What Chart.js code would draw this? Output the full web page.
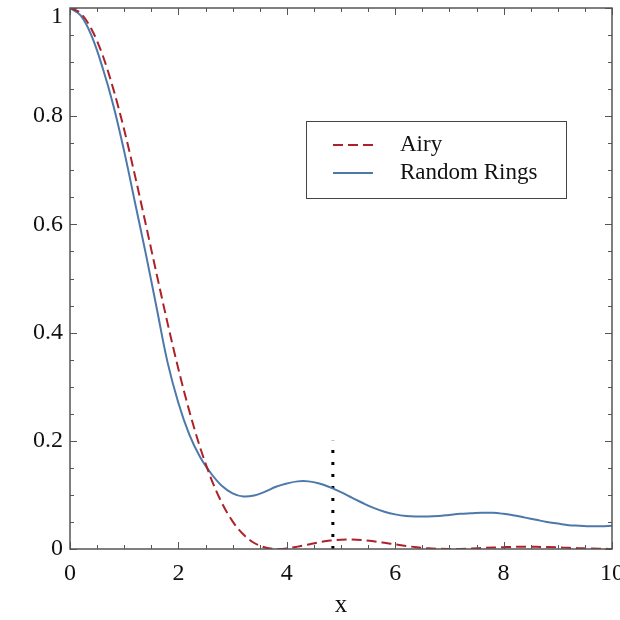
<!DOCTYPE html>
<html>
<head>
<meta charset="utf-8">
<script src="https://cdn.jsdelivr.net/npm/chart.js@4.4.1/dist/chart.umd.min.js"></script>
<style>
  html, body { margin: 0; padding: 0; background: #fff; }
  #wrap { width: 620px; height: 620px; }
</style>
</head>
<body>
<div id="wrap"><canvas id="chart" width="620" height="620"></canvas></div>
<script>
// x positions (step 0.2)
var xs = [0, 0.2, 0.4, 0.6, 0.8, 1.0, 1.2, 1.4, 1.6, 1.8, 2.0, 2.2, 2.4, 2.6, 2.8, 3.0, 3.2, 3.4, 3.6, 3.8,
  4.0, 4.2, 4.4, 4.6, 4.8, 5.0, 5.2, 5.4, 5.6, 5.8, 6.0, 6.2, 6.4, 6.6, 6.8, 7.0, 7.2, 7.4, 7.6, 7.8,
  8.0, 8.2, 8.4, 8.6, 8.8, 9.0, 9.2, 9.4, 9.6, 9.8, 10.0];

var airy = [1, 0.990, 0.9604, 0.9133, 0.8501, 0.7748, 0.6897, 0.5993, 0.5075, 0.4175, 0.3326, 0.2555, 0.1879,
  0.1312, 0.0856, 0.0511, 0.0267, 0.0111, 0.0028, 0.00005, 0.0011, 0.0044, 0.0085, 0.0125, 0.0155, 0.0172,
  0.0174, 0.0164, 0.0143, 0.0115, 0.0085, 0.0056, 0.0032, 0.0014, 0.0004, 0.0000, 0.0002, 0.0009, 0.0018,
  0.0027, 0.0034, 0.0040, 0.0042, 0.0040, 0.0036, 0.0030, 0.0022, 0.0015, 0.0008, 0.0004, 0.0001];

var rings = [1, 0.986, 0.948, 0.89, 0.82, 0.735, 0.64, 0.545, 0.445, 0.345, 0.27, 0.212, 0.17, 0.14, 0.117,
  0.103, 0.097, 0.099, 0.106, 0.115, 0.121, 0.125, 0.125, 0.121, 0.114, 0.105, 0.095, 0.085, 0.076, 0.069,
  0.064, 0.061, 0.060, 0.060, 0.061, 0.063, 0.065, 0.066, 0.067, 0.067, 0.065, 0.062, 0.058, 0.054, 0.050,
  0.047, 0.044, 0.043, 0.042, 0.042, 0.043];

var markX = 4.85;
var markY = [0, 0.2];

var xTicks = [0, 2, 4, 6, 8, 10];
var yTicks = [0, 0.2, 0.4, 0.6, 0.8, 1];

var serif = "'Liberation Serif', 'DejaVu Serif', serif";

function pts(ys) {
  return xs.map(function (x, i) { return { x: x, y: ys[i] }; });
}

function noPad(s) {
  s.paddingLeft = 0; s.paddingRight = 0; s.paddingTop = 0; s.paddingBottom = 0;
}

function fmt(v) { return String(+Number(v).toFixed(2)); }

// frame with inward ticks on all four sides, the top y label pushed inside, and the boxed legend
var framePlugin = {
  id: "frame",
  afterDraw: function (chart) {
    var ctx = chart.ctx;
    var ca = chart.chartArea;
    var sx = chart.scales.x, sy = chart.scales.y;
    ctx.save();
    ctx.strokeStyle = "#555";
    ctx.lineWidth = 1;
    var v, px, len;
    for (v = 0; v <= 10.0001; v += 0.5) {
      px = Math.round(sx.getPixelForValue(v)) + 0.5;
      len = (Math.abs(v / 2 - Math.round(v / 2)) < 1e-6) ? 7 : 4;
      ctx.beginPath();
      ctx.moveTo(px, ca.bottom); ctx.lineTo(px, ca.bottom - len);
      ctx.moveTo(px, ca.top); ctx.lineTo(px, ca.top + len);
      ctx.stroke();
    }
    for (v = 0; v <= 1.0001; v += 0.05) {
      px = Math.round(sy.getPixelForValue(v)) + 0.5;
      len = (Math.abs(v / 0.2 - Math.round(v / 0.2)) < 1e-6) ? 7 : 4;
      ctx.beginPath();
      ctx.moveTo(ca.left, px); ctx.lineTo(ca.left + len, px);
      ctx.moveTo(ca.right, px); ctx.lineTo(ca.right - len, px);
      ctx.stroke();
    }
    ctx.lineWidth = 1.5;
    ctx.strokeRect(ca.left, ca.top, ca.right - ca.left, ca.bottom - ca.top);

    // top y label sits just below the frame corner
    var top = yTicks[yTicks.length - 1];
    ctx.font = "24px " + serif;
    ctx.fillStyle = "#111";
    ctx.textAlign = "right";
    ctx.textBaseline = "middle";
    ctx.fillText(fmt(top), sy.left + sy.width - 7, sy.getPixelForValue(top) + 9);
    ctx.textAlign = "left";

    // legend
    var bx = ca.left + 236, by = ca.top + 113, bw = 260, bh = 77;
    ctx.fillStyle = "#fff";
    ctx.fillRect(bx, by, bw, bh);
    ctx.lineWidth = 1;
    ctx.strokeStyle = "#444";
    ctx.strokeRect(bx + 0.5, by + 0.5, bw, bh);
    ctx.font = "23px " + serif;
    ctx.textBaseline = "middle";
    ctx.fillStyle = "#111";
    var rows = chart.data.datasets.filter(function (d) { return d.label; });
    rows.forEach(function (d, i) {
      var ly = by + 24 + i * 28;
      ctx.beginPath();
      ctx.strokeStyle = d.borderColor;
      ctx.lineWidth = 2;
      ctx.setLineDash(d.borderDash || []);
      ctx.moveTo(bx + 27, ly); ctx.lineTo(bx + 67, ly);
      ctx.stroke();
      ctx.setLineDash([]);
      ctx.fillText(d.label, bx + 94, ly);
    });
    ctx.restore();
  }
};

new Chart(document.getElementById("chart").getContext("2d"), {
  type: "line",
  data: {
    datasets: [
      {
        label: "Airy",
        data: pts(airy),
        borderColor: "#ad2229",
        borderWidth: 2,
        borderDash: [10, 5],
        pointRadius: 0,
        fill: false,
        cubicInterpolationMode: "monotone"
      },
      {
        label: "Random Rings",
        data: pts(rings),
        borderColor: "#4d78aa",
        borderWidth: 2,
        pointRadius: 0,
        fill: false,
        tension: 0.4
      },
      {
        data: [{ x: markX, y: markY[0] }, { x: markX, y: markY[1] }],
        borderColor: "#000",
        borderWidth: 3,
        borderDash: [3, 9],
        pointRadius: 0,
        fill: false
      }
    ]
  },
  options: {
    responsive: false,
    animation: false,
    layout: { padding: { left: 0, right: 8, top: 8, bottom: 0 } },
    plugins: { legend: { display: false }, tooltip: { enabled: false } },
    scales: {
      x: {
        type: "linear",
        min: 0, max: 10,
        afterBuildTicks: function (s) { s.ticks = xTicks.map(function (v) { return { value: v }; }); },
        afterFit: function (s) { s.height = 71; noPad(s); },
        grid: { display: false, drawTicks: false },
        border: { display: false },
        ticks: {
          padding: 10, color: "#111", font: { family: serif, size: 24 }, maxRotation: 0,
          callback: function (v) { return fmt(v); }
        },
        title: { display: true, text: "x", color: "#111", font: { family: serif, size: 25 }, padding: { top: 0, bottom: 0 } }
      },
      y: {
        type: "linear",
        min: 0, max: 1,
        afterBuildTicks: function (s) { s.ticks = yTicks.map(function (v) { return { value: v }; }); },
        afterFit: function (s) { s.width = 70; noPad(s); },
        grid: { display: false, drawTicks: false },
        border: { display: false },
        ticks: {
          padding: 7, color: "#111", font: { family: serif, size: 24 },
          callback: function (v) { return v === yTicks[yTicks.length - 1] ? "" : fmt(v); }
        }
      }
    }
  },
  plugins: [framePlugin]
});
</script>
</body>
</html>
